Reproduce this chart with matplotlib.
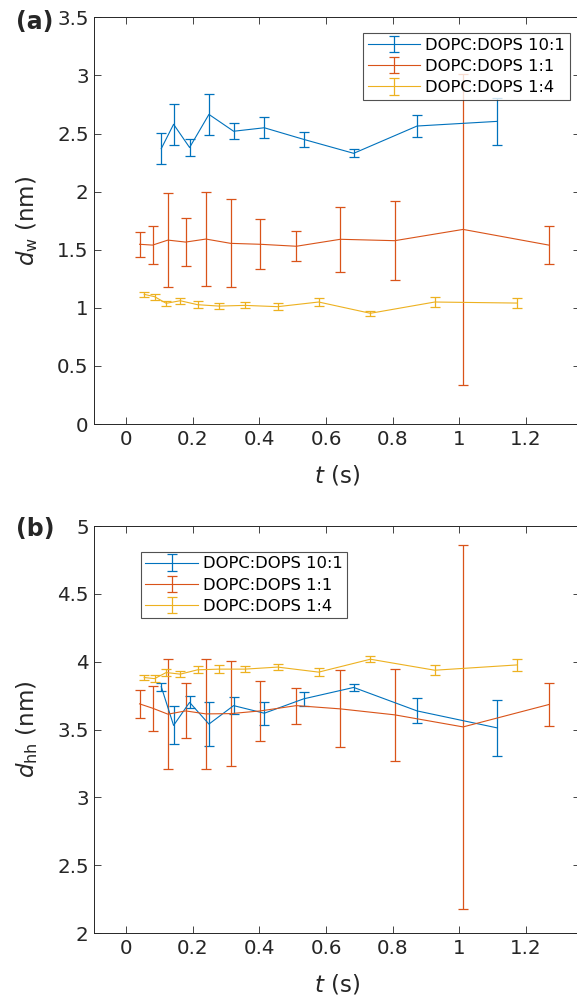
import numpy as np
import matplotlib
matplotlib.use('Agg')
import matplotlib.pyplot as plt

# time points (s) per series
t_10_1 = [0.106, 0.143, 0.191, 0.249, 0.323, 0.415, 0.533, 0.683, 0.873, 1.113]
t_1_1 = [0.041, 0.080, 0.126, 0.179, 0.240, 0.314, 0.403, 0.511, 0.643, 0.806, 1.011, 1.268]
t_1_4 = [0.055, 0.086, 0.121, 0.163, 0.215, 0.279, 0.357, 0.455, 0.578, 0.733, 0.926, 1.173]

# (a) water layer thickness d_w (nm) and errors
dw_10_1 = [2.37, 2.58, 2.38, 2.665, 2.52, 2.55, 2.45, 2.33, 2.565, 2.605]
dw_10_1_err = [0.135, 0.175, 0.07, 0.175, 0.07, 0.09, 0.065, 0.035, 0.095, 0.205]
dw_1_1 = [1.547, 1.54, 1.583, 1.566, 1.592, 1.555, 1.547, 1.53, 1.59, 1.578, 1.675, 1.54]
dw_1_1_err = [0.108, 0.165, 0.405, 0.205, 0.405, 0.38, 0.215, 0.13, 0.28, 0.34, 1.337, 0.162]
dw_1_4 = [1.116, 1.096, 1.039, 1.061, 1.027, 1.015, 1.021, 1.01, 1.05, 0.953, 1.05, 1.041]
dw_1_4_err = [0.02, 0.025, 0.023, 0.024, 0.028, 0.029, 0.026, 0.028, 0.036, 0.024, 0.042, 0.043]

# (b) headgroup thickness d_hh (nm) and errors
dhh_10_1 = [3.816, 3.53, 3.70, 3.54, 3.676, 3.62, 3.726, 3.81, 3.637, 3.512]
dhh_10_1_err = [0.03, 0.14, 0.045, 0.165, 0.06, 0.085, 0.052, 0.025, 0.092, 0.205]
dhh_1_1 = [3.689, 3.657, 3.613, 3.637, 3.615, 3.617, 3.637, 3.676, 3.652, 3.608, 3.519, 3.684]
dhh_1_1_err = [0.104, 0.165, 0.405, 0.203, 0.405, 0.385, 0.22, 0.132, 0.283, 0.34, 1.34, 0.161]
dhh_1_4 = [3.883, 3.875, 3.92, 3.908, 3.94, 3.945, 3.945, 3.96, 3.923, 4.018, 3.937, 3.976]
dhh_1_4_err = [0.016, 0.025, 0.025, 0.02, 0.026, 0.027, 0.022, 0.025, 0.032, 0.023, 0.037, 0.042]

labels = ['DOPC:DOPS 10:1', 'DOPC:DOPS 1:1', 'DOPC:DOPS 1:4']
colors = ['#0072BD', '#D95319', '#EDB120']

plt.rcParams['font.family'] = 'DejaVu Sans'
plt.rcParams['mathtext.fontset'] = 'dejavusans'
txt = '#262626'

W, H = 577, 996
fig = plt.figure(figsize=(W / 100, H / 100), dpi=100)


def make_axes(top_px, bottom_px):
    left_px = 94.2
    right_px = 579.5
    return fig.add_axes([left_px / W, 1 - bottom_px / H,
                         (right_px - left_px) / W, (bottom_px - top_px) / H])


def draw(ax, data, ylim, yticks, ylabel, leg_box):
    for (t, y, e), c, lab in zip(data, colors, labels):
        ax.errorbar(t, y, yerr=e, color=c, lw=0.8, elinewidth=0.9,
                    capsize=3.4, capthick=0.9, label=lab)
    ax.set_xlim(-0.095, 1.36)
    ax.set_ylim(*ylim)
    ax.set_xticks([0, 0.2, 0.4, 0.6, 0.8, 1, 1.2])
    ax.set_xticklabels(['0', '0.2', '0.4', '0.6', '0.8', '1', '1.2'])
    ax.set_yticks(yticks)
    ax.set_yticklabels([('%g' % v) for v in yticks])
    ax.tick_params(direction='in', length=5, width=0.6, colors=txt,
                   labelsize=14.3, top=True, right=True, pad=4)
    for s in ax.spines.values():
        s.set_color(txt)
        s.set_linewidth(0.7)
    ax.set_xlabel('$t$ (s)', fontsize=16.5, color=txt, labelpad=11)
    ax.set_ylabel(ylabel, fontsize=16.5, color=txt, labelpad=12.5)
    leg = ax.legend(loc='upper left', bbox_to_anchor=(leg_box[0] / W, 1 - leg_box[1] / H),
                    bbox_transform=fig.transFigure, fontsize=11.8, frameon=True,
                    fancybox=False, edgecolor='#262626', handlelength=3.2,
                    borderpad=0.28, labelspacing=0.38, handletextpad=0.3,
                    borderaxespad=0)
    leg.get_frame().set_linewidth(0.8)


ax1 = make_axes(17.4, 424)
draw(ax1, [(t_10_1, dw_10_1, dw_10_1_err), (t_1_1, dw_1_1, dw_1_1_err), (t_1_4, dw_1_4, dw_1_4_err)],
     (0, 3.5), [0, 0.5, 1, 1.5, 2, 2.5, 3, 3.5], '$d_\\mathrm{w}$ (nm)', (363.3, 33))

ax2 = make_axes(526, 933)
draw(ax2, [(t_10_1, dhh_10_1, dhh_10_1_err), (t_1_1, dhh_1_1, dhh_1_1_err), (t_1_4, dhh_1_4, dhh_1_4_err)],
     (2, 5), [2, 2.5, 3, 3.5, 4, 4.5, 5], '$d_\\mathrm{hh}$ (nm)', (140.7, 551.7))

fig.text(16.5 / W, 1 - 22 / H, '(a)', fontsize=17, fontweight='bold', color=txt, va='center', ha='left')
fig.text(16.5 / W, 1 - 529 / H, '(b)', fontsize=17, fontweight='bold', color=txt, va='center', ha='left')

fig.savefig('out.png', dpi=100)
